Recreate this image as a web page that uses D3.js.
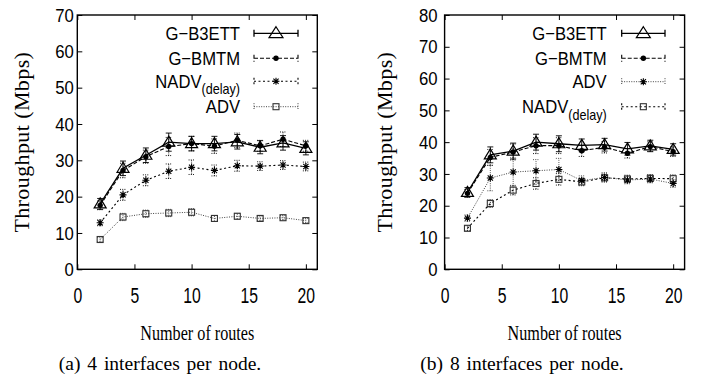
<!DOCTYPE html>
<html>
<head>
<meta charset="utf-8">
<script src="https://cdn.jsdelivr.net/npm/d3@7"></script>
<style>
body { margin: 0; background: #fff; }
svg { display: block; }
</style>
</head>
<body>
<svg id="vis" width="701" height="382"></svg>
<script>
var routes = [2, 4, 6, 8, 10, 12, 14, 16, 18, 20];
var xTicks = [0, 5, 10, 15, 20];
var yTicksA = [0, 10, 20, 30, 40, 50, 60, 70];
var yTicksB = [0, 10, 20, 30, 40, 50, 60, 70, 80];

// (a) 4 interfaces per node
var a_b3ett    = [18.0, 27.8, 31.4, 35.0, 34.6, 34.6, 35.1, 33.6, 34.8, 33.3];
var a_b3ettErr = [1.5, 2.0, 2.0, 2.5, 2.0, 2.0, 2.0, 1.8, 2.0, 1.8];
var a_bmtm     = [17.6, 27.2, 31.0, 33.8, 34.6, 33.9, 35.5, 34.0, 35.8, 34.0];
var a_bmtmErr  = [1.2, 2.0, 1.8, 2.5, 2.0, 2.0, 2.0, 1.5, 2.0, 1.5];
var a_nadv     = [12.8, 20.5, 24.5, 27.0, 28.1, 27.2, 28.5, 28.4, 28.7, 28.3];
var a_nadvErr  = [0.8, 1.5, 1.5, 2.0, 2.0, 1.5, 1.5, 1.2, 1.2, 1.2];
var a_adv      = [8.2, 14.4, 15.3, 15.5, 15.7, 14.0, 14.6, 14.0, 14.2, 13.4];
var a_advErr   = [0.6, 1.0, 1.0, 1.0, 1.0, 0.8, 0.8, 0.6, 0.6, 0.6];

// (b) 8 interfaces per node
var b_b3ett    = [24.2, 36.0, 37.2, 40.0, 39.5, 39.0, 39.2, 37.9, 38.8, 37.7];
var b_b3ettErr = [1.5, 2.5, 2.5, 2.5, 2.5, 2.0, 2.0, 2.0, 1.8, 1.8];
var b_bmtm     = [23.9, 35.2, 36.9, 38.9, 38.9, 37.3, 38.4, 36.5, 38.6, 37.0];
var b_bmtmErr  = [1.2, 2.5, 2.5, 2.5, 2.5, 1.8, 1.8, 1.5, 1.5, 1.5];
var b_adv      = [16.1, 28.7, 30.6, 31.0, 31.4, 27.9, 28.9, 28.1, 28.4, 27.0];
var b_advErr   = [1.0, 4.0, 4.5, 3.5, 3.5, 1.5, 1.5, 1.2, 1.2, 1.2];
var b_nadv     = [12.9, 20.7, 24.9, 27.0, 28.3, 27.5, 28.8, 28.4, 28.6, 28.5];
var b_nadvErr  = [0.8, 1.2, 1.5, 1.8, 1.8, 1.2, 1.2, 1.2, 1.2, 1.2];

var styles = {
    solid:  { dash: null,      width: 1.3, color: "#000" },
    dashed: { dash: "4,2",     width: 1.1, color: "#000" },
    short:  { dash: "2,2.5",   width: 1.1, color: "#000" },
    dotted: { dash: "1,1.4",   width: 1.0, color: "#444" }
};

var sans = "'Liberation Sans', Arial, sans-serif";
var serif = "'Liberation Serif', 'Times New Roman', serif";

var svg = d3.select("#vis");
var plotTop = 15, plotBottom = 269.3;

function marker(sel, type, big) {
    if (type == "triangle") {
        var w = big ? 14 : 12, h = big ? 11 : 10;
        sel.append("path")
            .attr("d", "M0," + (-h * 0.6) + "L" + (w / 2) + "," + (h * 0.4) + "L" + (-w / 2) + "," + (h * 0.4) + "Z")
            .attr("fill", "none").attr("stroke", "#000").attr("stroke-width", 1.2);
    } else if (type == "circle") {
        sel.append("circle").attr("r", 2.7).attr("fill", "#000");
    } else if (type == "star") {
        sel.append("path")
            .attr("d", "M-3.5,0H3.5M0,-3.5V3.5M-2.6,-2.6L2.6,2.6M-2.6,2.6L2.6,-2.6")
            .attr("stroke", "#000").attr("stroke-width", 1.1);
    } else if (type == "square") {
        sel.append("rect").attr("x", -3).attr("y", -3).attr("width", 6).attr("height", 6)
            .attr("fill", "none").attr("stroke", "#333").attr("stroke-width", 1.1);
    }
}

function drawPanel(p) {
    var g = svg.append("g");
    var x = d3.scaleLinear().domain([0, 21]).range([p.left, p.right]);
    var y = d3.scaleLinear().domain([0, p.yMax]).range([plotBottom, plotTop]);

    // axes, ticks pointing inward (gnuplot style)
    var bottom = g.append("g").attr("transform", "translate(0," + plotBottom + ")")
        .call(d3.axisBottom(x).tickValues(xTicks).tickSize(-5));
    bottom.selectAll("text")
        .attr("y", 34).attr("dy", null)
        .attr("transform", "scale(0.7,1)")
        .style("font-family", sans)
        .style("font-size", "22.5px").attr("fill", "#000");
    g.append("g").attr("transform", "translate(0," + plotTop + ")")
        .call(d3.axisTop(x).tickValues(xTicks).tickSize(-5).tickFormat(""));

    var left = g.append("g").attr("transform", "translate(" + p.left + ",0)")
        .call(d3.axisLeft(y).tickValues(p.yTicks).tickSize(-5).tickPadding(p.yPad));
    left.selectAll("text")
        .attr("transform", "scale(0.88,1)")
        .style("font-family", sans)
        .style("font-size", "19px").attr("fill", "#000");
    g.append("g").attr("transform", "translate(" + p.right + ",0)")
        .call(d3.axisRight(y).tickValues(p.yTicks).tickSize(-5).tickFormat(""));

    g.selectAll(".domain").remove();
    g.selectAll(".tick line").attr("stroke", "#000").attr("stroke-width", 1);

    g.append("rect")
        .attr("x", p.left).attr("y", plotTop)
        .attr("width", p.right - p.left).attr("height", plotBottom - plotTop)
        .attr("fill", "none").attr("stroke", "#000").attr("stroke-width", 1.4);

    // series, last legend entry first
    var line = d3.line().x(function(d) { return x(d[0]); }).y(function(d) { return y(d[1]); });
    p.series.slice().reverse().forEach(function(s) {
        var st = styles[s.style];
        var pts = routes.map(function(r, i) { return [r, s.values[i], s.err[i]]; });
        var sg = g.append("g");
        sg.append("path")
            .attr("d", line(pts))
            .attr("fill", "none").attr("stroke", st.color)
            .attr("stroke-width", st.width).attr("stroke-dasharray", st.dash);
        // error bars
        sg.selectAll(".err").data(pts).enter().append("path")
            .attr("d", function(d) {
                var cx = x(d[0]), y1 = y(d[1] - d[2]), y2 = y(d[1] + d[2]);
                return "M" + cx + "," + y1 + "V" + y2 +
                    "M" + (cx - 3) + "," + y1 + "H" + (cx + 3) +
                    "M" + (cx - 3) + "," + y2 + "H" + (cx + 3);
            })
            .attr("fill", "none").attr("stroke", st.color)
            .attr("stroke-width", 0.9).attr("stroke-dasharray", st.dash ? "1,1.2" : null);
        sg.selectAll(".pt").data(pts).enter().append("g")
            .attr("transform", function(d) { return "translate(" + x(d[0]) + "," + y(d[1]) + ")"; })
            .each(function() { marker(d3.select(this), s.marker, false); });
    });

    // legend
    p.series.forEach(function(s, i) {
        var st = styles[s.style];
        var ly = p.legendY[i];
        var lg = g.append("g");
        var t = lg.append("text")
            .attr("transform", "translate(" + p.legendText + "," + (ly + 6.6) + ") scale(0.9,1)")
            .attr("text-anchor", "end")
            .style("font-family", sans)
            .style("font-size", "18.5px").attr("fill", "#000");
        t.append("tspan").text(s.label);
        if (s.sub) {
            t.append("tspan").attr("dy", 6.5).style("font-size", "14px").text(s.sub);
        }
        lg.append("path")
            .attr("d", "M" + p.legendLine[0] + "," + ly + "H" + p.legendLine[1] +
                "M" + p.legendLine[0] + "," + (ly - 3.5) + "V" + (ly + 3.5) +
                "M" + p.legendLine[1] + "," + (ly - 3.5) + "V" + (ly + 3.5))
            .attr("fill", "none").attr("stroke", st.color)
            .attr("stroke-width", st.width).attr("stroke-dasharray", st.dash);
        lg.append("g")
            .attr("transform", "translate(" + ((p.legendLine[0] + p.legendLine[1]) / 2) + "," + ly + ")")
            .each(function() { marker(d3.select(this), s.marker, true); });
    });

    // axis titles and caption
    svg.append("text")
        .attr("transform", "translate(" + p.yLabelX + "," + ((plotTop + plotBottom) / 2) + ") rotate(-90)")
        .attr("text-anchor", "middle")
        .style("font-family", serif)
        .style("font-size", "22px").style("letter-spacing", "0.4px").attr("fill", "#000")
        .text("Throughput (Mbps)");
    svg.append("text")
        .attr("transform", "translate(" + ((p.left + p.right) / 2) + ",340) scale(0.77,1)")
        .attr("text-anchor", "middle")
        .style("font-family", serif)
        .style("font-size", "21px").attr("fill", "#000")
        .text("Number of routes");
    svg.append("text")
        .attr("x", p.captionX).attr("y", 370)
        .attr("text-anchor", "middle")
        .style("font-family", serif)
        .style("font-size", "19.5px").style("word-spacing", "2px").attr("fill", "#000")
        .text(p.caption);
}

drawPanel({
    left: 77.3, right: 317.3, yMax: 70, yTicks: yTicksA, yPad: 4,
    yLabelX: 29, captionX: 160,
    caption: "(a) 4 interfaces per node.",
    legendText: 240, legendLine: [254, 298], legendY: [33.3, 58.3, 81.3, 106.7],
    series: [
        { label: "G\u2212B3ETT", values: a_b3ett, err: a_b3ettErr, style: "solid", marker: "triangle" },
        { label: "G\u2212BMTM", values: a_bmtm, err: a_bmtmErr, style: "dashed", marker: "circle" },
        { label: "NADV", sub: "(delay)", values: a_nadv, err: a_nadvErr, style: "short", marker: "star" },
        { label: "ADV", values: a_adv, err: a_advErr, style: "dotted", marker: "square" }
    ]
});

drawPanel({
    left: 444.6, right: 684.6, yMax: 80, yTicks: yTicksB, yPad: 8,
    yLabelX: 392, captionX: 522,
    caption: "(b) 8 interfaces per node.",
    legendText: 606.7, legendLine: [621.7, 665], legendY: [33.3, 58.3, 81.7, 106.7],
    series: [
        { label: "G\u2212B3ETT", values: b_b3ett, err: b_b3ettErr, style: "solid", marker: "triangle" },
        { label: "G\u2212BMTM", values: b_bmtm, err: b_bmtmErr, style: "dashed", marker: "circle" },
        { label: "ADV", values: b_adv, err: b_advErr, style: "dotted", marker: "star" },
        { label: "NADV", sub: "(delay)", values: b_nadv, err: b_nadvErr, style: "short", marker: "square" }
    ]
});
</script>
</body>
</html>
